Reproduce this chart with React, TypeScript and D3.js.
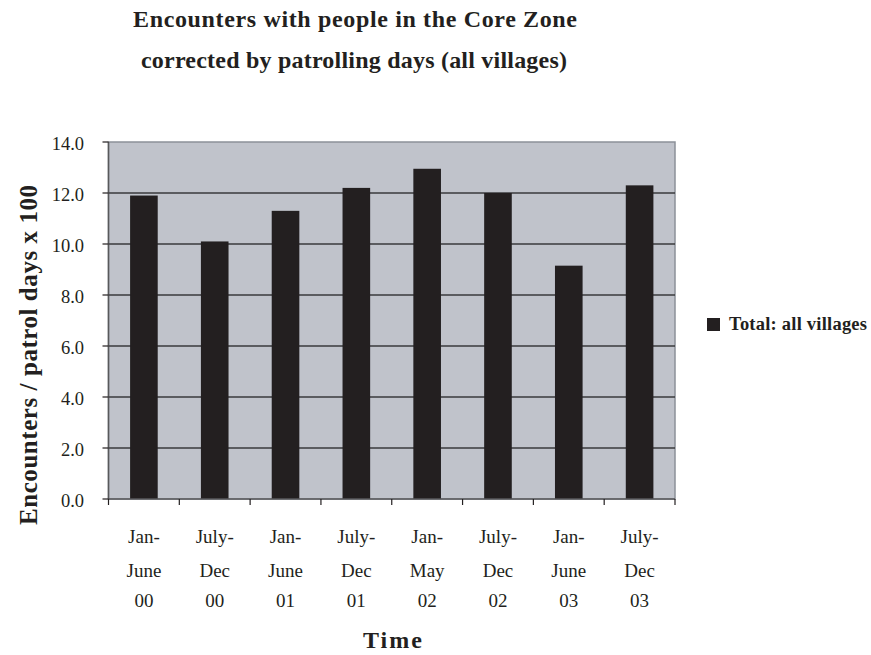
import React from "react";
import * as d3 from "d3";

const periods = ["Jan-|June|00", "July-|Dec|00", "Jan-|June|01", "July-|Dec|01", "Jan-|May|02", "July-|Dec|02", "Jan-|June|03", "July-|Dec|03"];
const encounters = [11.9, 10.1, 11.3, 12.2, 12.95, 12.0, 9.15, 12.3];
const yTicks = [0, 2, 4, 6, 8, 10, 12, 14];
const seriesName = "Total: all villages";
const titleLines = ["Encounters with people in the Core Zone", "corrected by patrolling days (all villages)"];

const W = 871;
const H = 655;
const plot = { left: 108.5, right: 675, top: 142, bottom: 499 };
const FONT = "'Liberation Serif', 'DejaVu Serif', serif";
const INK = "#231f20";

export default function App() {
  const x = d3.scaleBand<string>().domain(periods).range([plot.left, plot.right]).paddingInner(0.61).paddingOuter(0.305);
  const bandStep = (plot.right - plot.left) / periods.length;
  const y = d3.scaleLinear().domain([0, 14]).range([plot.bottom, plot.top]);
  const rowBaselines = [543, 577, 607];

  return (
    <svg width={W} height={H} style={{ position: "absolute", left: 0, top: 0, background: "#fff" }} fontFamily={FONT}>
      <text x={133} y={27} fontSize={24} fontWeight="bold" fill={INK} textLength={444} lengthAdjust="spacing">
        {titleLines[0]}
      </text>
      <text x={141} y={68} fontSize={24} fontWeight="bold" fill={INK} textLength={426} lengthAdjust="spacing">
        {titleLines[1]}
      </text>

      <rect x={plot.left} y={plot.top} width={plot.right - plot.left} height={plot.bottom - plot.top} fill="#c0c3cb" stroke="#8c9199" strokeWidth={1.5} />

      {yTicks.slice(1, -1).map((t) => (
        <line key={t} x1={plot.left} x2={plot.right} y1={y(t)} y2={y(t)} stroke="#3a3a3c" strokeWidth={1.5} />
      ))}

      {periods.map((p, i) => (
        <rect key={p} x={x(p)} y={y(encounters[i])} width={x.bandwidth()} height={plot.bottom - y(encounters[i])} fill={INK} />
      ))}

      <line x1={plot.left} x2={plot.left} y1={plot.top} y2={plot.bottom} stroke="#58595b" strokeWidth={1.5} />
      <line x1={plot.left} x2={plot.right} y1={plot.bottom} y2={plot.bottom} stroke="#58595b" strokeWidth={1.5} />

      {yTicks.map((t) => (
        <g key={t}>
          <line x1={plot.left - 6} x2={plot.left} y1={y(t)} y2={y(t)} stroke={INK} strokeWidth={1.2} />
          <text x={84} y={y(t) + 8} textAnchor="end" fontSize={18.5} fill={INK}>
            {t.toFixed(1)}
          </text>
        </g>
      ))}

      {d3.range(periods.length + 1).map((i) => (
        <line key={i} x1={plot.left + i * bandStep} x2={plot.left + i * bandStep} y1={plot.bottom} y2={plot.bottom + 6} stroke={INK} strokeWidth={1.2} />
      ))}

      {periods.map((p) => {
        const cx = (x(p) as number) + x.bandwidth() / 2;
        return p.split("|").map((ln, j) => (
          <text key={p + j} x={cx} y={rowBaselines[j]} textAnchor="middle" fontSize={19} fill={INK}>
            {ln}
          </text>
        ));
      })}

      <text x={363} y={648} fontSize={24} fontWeight="bold" fill={INK} textLength={59} lengthAdjust="spacing">
        Time
      </text>

      <text transform={`translate(37, 355) rotate(-90)`} textAnchor="middle" fontSize={25} fontWeight="bold" fill={INK} textLength={340} lengthAdjust="spacing">
        Encounters / patrol days x 100
      </text>

      <rect x={707} y={318} width={13} height={13} fill={INK} />
      <text x={729} y={330} fontSize={18.5} fontWeight="bold" fill={INK} textLength={138} lengthAdjust="spacing">
        {seriesName}
      </text>
    </svg>
  );
}
